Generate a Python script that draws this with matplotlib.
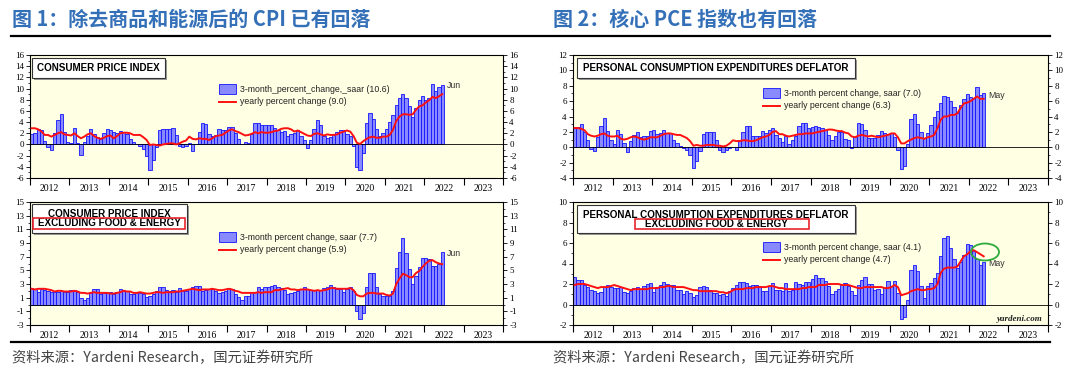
import numpy as np
import matplotlib
matplotlib.use("Agg")
import matplotlib.pyplot as plt
from matplotlib.patches import Rectangle, Ellipse
from matplotlib.lines import Line2D

W, H = 1080, 373

# ---------------- data (monthly, starting Jan 2012) ----------------
cpi_3m = [1.9, 2.0, 2.8, 2.5, 0.7, -0.5, -1.0, 2.1, 4.4, 5.4, 2.2, 0.4,
          0.3, 2.9, 0.3, -1.8, 0.4, 1.6, 2.7, 1.9, 1.4, 1.0, 2.0, 2.8,
          2.6, 2.2, 2.1, 2.4, 2.2, 1.8, 1.0, 0.5, 0.1, -0.3, -0.8, -2.1,
          -4.5, -2.8, -0.5, 2.5, 2.7, 2.8, 2.8, 3.0, 1.7, -0.3, -0.5, -0.2,
          0.2, -1.2, 0.1, 2.3, 3.8, 3.6, 1.8, 1.6, 1.7, 2.7, 2.5, 2.5,
          3.1, 3.2, 2.0, 1.0, 0.0, 0.4, 0.2, 1.9, 3.8, 3.9, 3.4, 3.4,
          3.5, 3.5, 2.9, 2.5, 2.3, 2.4, 1.6, 1.8, 2.0, 2.5, 1.6, 0.8,
          -0.6, 0.8, 2.8, 4.3, 3.5, 1.6, 1.2, 1.4, 1.8, 2.2, 2.6, 2.5,
          1.9, 1.6, -0.3, -4.0, -4.6, -1.5, 3.8, 5.7, 4.6, 2.8, 1.6, 2.0,
          2.8, 4.0, 5.3, 7.0, 8.3, 9.0, 8.3, 6.8, 4.9, 6.5, 8.0, 8.6,
          8.0, 8.3, 10.9, 9.6, 10.3, 10.6]
cpi_yoy = [2.9, 2.9, 2.7, 2.3, 1.7, 1.7, 1.4, 1.7, 2.0, 2.2, 1.8, 1.7,
           1.6, 2.0, 1.5, 1.1, 1.4, 1.8, 2.0, 1.5, 1.2, 1.0, 1.2, 1.5,
           1.6, 1.1, 1.5, 2.0, 2.1, 2.1, 2.0, 1.7, 1.7, 1.7, 1.3, 0.8,
           -0.1, 0.0, -0.1, -0.2, 0.0, 0.1, 0.2, 0.2, 0.0, 0.2, 0.5, 0.7,
           1.4, 1.0, 0.9, 1.1, 1.0, 1.0, 0.8, 1.1, 1.5, 1.6, 1.7, 2.1,
           2.5, 2.7, 2.4, 2.2, 1.9, 1.6, 1.7, 1.9, 2.2, 2.0, 2.2, 2.1,
           2.1, 2.2, 2.4, 2.5, 2.8, 2.9, 2.9, 2.7, 2.3, 2.5, 2.2, 1.9,
           1.6, 1.5, 1.9, 2.0, 1.8, 1.6, 1.8, 1.7, 1.7, 1.8, 2.1, 2.3,
           2.5, 2.3, 1.5, 0.3, 0.1, 0.6, 1.0, 1.3, 1.4, 1.2, 1.2, 1.4,
           1.4, 1.7, 2.6, 4.2, 5.0, 5.4, 5.4, 5.3, 5.4, 6.2, 6.8, 7.0,
           7.5, 7.9, 8.5, 8.3, 8.6, 9.0]
core_cpi_3m = [2.4, 2.2, 1.9, 2.2, 2.1, 2.0, 1.8, 1.8, 1.9, 2.0, 1.8, 1.9,
               2.1, 2.1, 1.8, 1.0, 0.7, 1.0, 1.7, 2.3, 2.3, 1.6, 1.7, 1.7,
               1.8, 1.5, 1.9, 2.3, 2.1, 2.0, 1.5, 1.6, 1.8, 1.7, 1.5, 1.1,
               1.2, 1.6, 2.0, 2.6, 2.5, 2.1, 2.0, 2.1, 1.9, 2.4, 2.0, 2.0,
               2.2, 2.6, 2.7, 2.7, 2.0, 2.1, 2.3, 2.2, 2.0, 1.7, 1.8, 2.0,
               2.4, 2.2, 1.6, 1.1, 0.7, 1.3, 1.2, 1.8, 1.8, 2.5, 2.2, 2.5,
               2.5, 2.7, 2.8, 2.6, 2.4, 2.1, 1.5, 1.7, 1.9, 2.0, 2.2, 2.5,
               2.2, 2.1, 2.1, 2.1, 2.1, 2.4, 2.5, 2.8, 2.6, 2.3, 2.2, 1.9,
               2.3, 2.5, 2.0, -0.9, -2.1, -1.3, 2.6, 4.6, 4.6, 2.6, 1.5, 1.3,
               1.2, 1.2, 2.0, 5.3, 7.7, 9.7, 7.5, 5.2, 3.0, 4.2, 5.5, 6.8,
               6.8, 6.7, 5.7, 5.7, 6.0, 7.7]
core_cpi_yoy = [2.3, 2.2, 2.3, 2.3, 2.3, 2.2, 2.1, 1.9, 2.0, 2.0, 1.9, 1.9,
                1.9, 2.0, 1.9, 1.7, 1.7, 1.6, 1.7, 1.8, 1.7, 1.7, 1.7, 1.7,
                1.6, 1.6, 1.7, 1.8, 2.0, 1.9, 1.9, 1.7, 1.7, 1.8, 1.7, 1.6,
                1.6, 1.7, 1.8, 1.8, 1.7, 1.8, 1.8, 1.8, 1.9, 1.9, 2.0, 2.1,
                2.2, 2.3, 2.2, 2.1, 2.2, 2.2, 2.2, 2.3, 2.2, 2.1, 2.1, 2.2,
                2.3, 2.2, 2.0, 1.9, 1.7, 1.7, 1.7, 1.7, 1.7, 1.8, 1.7, 1.8,
                1.8, 1.8, 2.1, 2.1, 2.2, 2.3, 2.4, 2.2, 2.2, 2.1, 2.2, 2.2,
                2.2, 2.1, 2.0, 2.1, 2.0, 2.1, 2.2, 2.4, 2.4, 2.3, 2.3, 2.3,
                2.3, 2.4, 2.1, 1.4, 1.2, 1.2, 1.6, 1.7, 1.7, 1.6, 1.6, 1.6,
                1.4, 1.3, 1.6, 3.0, 3.8, 4.5, 4.3, 4.0, 4.0, 4.6, 4.9, 5.5,
                6.0, 6.4, 6.5, 6.2, 6.0, 5.9]
pce_3m = [2.5, 2.6, 3.0, 2.0, 0.9, -0.2, -0.5, 1.3, 2.7, 3.8, 2.1, 0.9,
          0.4, 2.2, 1.7, 0.6, -0.6, 0.8, 1.6, 2.0, 1.3, 1.5, 1.5, 2.1,
          2.2, 1.7, 1.8, 2.3, 1.9, 1.9, 1.0, 0.6, 0.2, -0.1, -0.3, -1.0,
          -2.7, -1.8, -0.5, 1.7, 2.0, 2.0, 2.0, 1.0, -0.3, -0.6, -0.4, -0.1,
          0.0, -0.4, 0.9, 2.0, 2.8, 2.7, 1.5, 1.5, 1.5, 2.1, 1.8, 2.3,
          2.5, 1.6, 1.2, 0.7, 1.4, 0.4, 1.0, 1.4, 2.7, 3.2, 3.1, 2.5,
          2.6, 2.8, 2.6, 2.5, 2.3, 1.6, 1.0, 1.4, 2.0, 2.0, 1.1, 0.9,
          -0.1, 1.3, 3.1, 3.0, 2.2, 1.2, 1.2, 1.2, 1.6, 2.1, 1.9, 1.7,
          1.8, 1.3, -0.3, -2.8, -2.5, 0.4, 3.7, 4.3, 3.0, 2.0, 1.2, 1.8,
          2.9, 3.9, 4.7, 5.7, 6.7, 6.6, 6.0, 5.3, 4.5, 5.5, 6.3, 6.9,
          6.5, 6.4, 7.9, 6.8, 7.0]
pce_yoy = [2.5, 2.5, 2.4, 2.2, 1.7, 1.5, 1.4, 1.5, 1.7, 1.8, 1.5, 1.4,
           1.4, 1.5, 1.1, 1.0, 1.1, 1.3, 1.4, 1.3, 1.1, 1.0, 1.1, 1.3,
           1.3, 1.3, 1.5, 1.7, 1.8, 1.8, 1.7, 1.6, 1.6, 1.4, 1.2, 0.8,
           0.2, 0.3, 0.2, 0.2, 0.3, 0.3, 0.3, 0.2, 0.2, 0.1, 0.2, 0.5,
           0.9, 0.8, 0.8, 0.9, 0.9, 0.8, 0.8, 0.9, 1.1, 1.3, 1.4, 1.6,
           2.0, 2.1, 1.7, 1.7, 1.5, 1.4, 1.5, 1.6, 1.7, 1.7, 1.8, 1.8,
           1.8, 1.9, 2.0, 2.1, 2.2, 2.3, 2.3, 2.2, 2.1, 2.1, 1.9, 1.8,
           1.4, 1.3, 1.5, 1.6, 1.5, 1.4, 1.5, 1.4, 1.3, 1.4, 1.5, 1.6,
           1.8, 1.8, 1.3, 0.5, 0.5, 0.8, 1.0, 1.2, 1.3, 1.2, 1.1, 1.3,
           1.4, 1.6, 2.5, 3.6, 4.0, 4.0, 4.2, 4.2, 4.4, 5.1, 5.7, 5.8,
           6.0, 6.3, 6.6, 6.3, 6.3]
core_pce_3m = [2.7, 2.4, 2.4, 1.9, 1.7, 1.4, 1.3, 1.1, 1.2, 1.7, 1.9, 1.7,
               1.6, 1.6, 1.7, 1.2, 1.1, 1.3, 1.6, 1.7, 1.5, 1.8, 2.0, 2.1,
               1.2, 1.7, 1.9, 2.2, 2.0, 1.9, 1.9, 1.4, 1.4, 1.0, 1.3, 1.1,
               0.7, 0.9, 1.7, 1.8, 1.7, 1.4, 1.1, 1.1, 0.9, 1.0, 0.8, 1.3,
               1.6, 1.9, 2.2, 2.2, 2.1, 1.8, 1.9, 1.9, 1.8, 1.3, 1.3, 1.8,
               2.1, 1.4, 1.4, 1.3, 2.1, 1.3, 1.4, 2.2, 2.0, 1.9, 2.2, 2.2,
               2.5, 2.9, 2.6, 2.6, 2.3, 1.8, 1.0, 1.3, 1.5, 1.9, 2.1, 1.8,
               1.3, 0.9, 1.9, 2.4, 2.7, 2.0, 2.0, 1.4, 1.5, 1.0, 1.6, 2.3,
               1.8, 2.3, 1.1, -1.4, -1.2, 0.4, 3.4, 3.9, 3.3, 1.8, 0.6, 1.8,
               2.1, 2.6, 3.1, 4.7, 6.5, 6.7, 5.5, 4.4, 3.6, 4.1, 4.8, 5.9,
               5.8, 5.2, 4.4, 3.9, 4.1]
core_pce_yoy = [1.9, 2.0, 2.0, 2.0, 1.9, 1.8, 1.7, 1.6, 1.7, 1.7, 1.7, 1.8,
                1.9, 1.8, 1.7, 1.6, 1.5, 1.4, 1.5, 1.5, 1.5, 1.5, 1.5, 1.6,
                1.6, 1.6, 1.7, 1.7, 1.8, 1.8, 1.7, 1.7, 1.7, 1.7, 1.6, 1.5,
                1.4, 1.4, 1.3, 1.3, 1.3, 1.3, 1.3, 1.3, 1.2, 1.2, 1.1, 1.2,
                1.4, 1.5, 1.5, 1.5, 1.6, 1.6, 1.6, 1.7, 1.7, 1.7, 1.7, 1.8,
                1.8, 1.7, 1.6, 1.6, 1.5, 1.5, 1.5, 1.5, 1.5, 1.6, 1.6, 1.7,
                1.7, 1.7, 1.9, 1.9, 1.9, 2.0, 2.0, 2.0, 2.0, 1.9, 1.9, 1.9,
                1.8, 1.7, 1.6, 1.6, 1.7, 1.7, 1.7, 1.7, 1.7, 1.7, 1.6, 1.6,
                1.7, 1.9, 1.7, 0.9, 1.0, 1.1, 1.3, 1.4, 1.5, 1.4, 1.4, 1.5,
                1.5, 1.6, 2.0, 3.1, 3.5, 3.6, 3.6, 3.6, 3.7, 4.2, 4.7, 4.9,
                5.2, 5.3, 5.1, 4.9, 4.7]

years = list(range(2012, 2024))
start_year = 2012

title_left = "图 1：除去商品和能源后的 CPI 已有回落"
title_right = "图 2：核心 PCE 指数也有回落"
source_text = "资料来源：Yardeni Research，国元证券研究所"

panels = [
    dict(box=(30, 55, 503, 178), bars=cpi_3m, line=cpi_yoy, ylim=(-6, 16), yt=(-6, 16, 2),
         t1="CONSUMER PRICE INDEX", t2=None, tbox=(32, 58, 165, 78),
         leg1="3-month_percent_change,_saar (10.6)", leg2="yearly percent change (9.0)",
         legx=219, legy=89, end="Jun", endxy=(447, 86)),
    dict(box=(30, 202, 503, 325), bars=core_cpi_3m, line=core_cpi_yoy, ylim=(-3, 15), yt=(-3, 15, 2),
         t1="CONSUMER PRICE INDEX", t2="EXCLUDING FOOD & ENERGY", tbox=(32, 204, 187, 233),
         red=(33, 218, 185, 229),
         leg1="3-month percent change, saar (7.7)", leg2="yearly percent change (5.9)",
         legx=219, legy=237, end="Jun", endxy=(447, 253)),
    dict(box=(573, 55, 1048, 178), bars=pce_3m, line=pce_yoy, ylim=(-4, 12), yt=(-4, 12, 2),
         t1="PERSONAL CONSUMPTION EXPENDITURES DEFLATOR", t2=None, tbox=(577, 58, 855, 78),
         leg1="3-month percent change, saar (7.0)", leg2="yearly percent change (6.3)",
         legx=763, legy=93, end="May", endxy=(988, 95)),
    dict(box=(573, 202, 1048, 325), bars=core_pce_3m, line=core_pce_yoy, ylim=(-2, 10), yt=(-2, 10, 2),
         t1="PERSONAL CONSUMPTION EXPENDITURES DEFLATOR", t2="EXCLUDING FOOD & ENERGY",
         tbox=(577, 205, 855, 233), red=(635, 219, 809, 229),
         leg1="3-month percent change, saar (4.1)", leg2="yearly percent change (4.7)",
         legx=763, legy=247, end="May", endxy=(988, 263)),
]

fig = plt.figure(figsize=(W / 100, H / 100), dpi=100)
fig.patch.set_facecolor("white")


def fx(x):
    return x / W


def fy(y):
    return 1 - y / H


def frect(x0, y0, x1, y1, **kw):
    r = Rectangle((fx(x0), fy(y1)), (x1 - x0) / W, (y1 - y0) / H,
                  transform=fig.transFigure, **kw)
    fig.add_artist(r)
    return r


serif = "Liberation Serif"
sans = "Liberation Sans"

for p in panels:
    l, t, r, b = p["box"]
    ax = fig.add_axes([fx(l), fy(b), (r - l) / W, (b - t) / H])
    ax.set_facecolor("#ffffe4")
    n = len(p["bars"])
    xs = start_year + np.arange(n) / 12.0
    ax.bar(xs, p["bars"], width=1 / 12.0, align="edge", facecolor="#8a8aff",
           edgecolor="#1414ff", linewidth=0.6, zorder=2)
    ax.plot(xs + 1 / 24.0, p["line"], color="#ff1010", lw=1.4, zorder=3)
    ax.axhline(0, color="black", lw=0.6, zorder=2.5)
    ax.set_xlim(years[0], years[-1] + 1)
    ax.set_ylim(*p["ylim"])
    lo, hi, st = p["yt"]
    ax.set_yticks(np.arange(lo, hi + 0.01, st))
    ax.set_yticks(np.arange(lo, hi + 0.01, st / 2.0), minor=True)
    ax.set_yticklabels([str(int(v)) for v in np.arange(lo, hi + 0.01, st)])
    ax.set_xticks(years + [years[-1] + 1])
    ax.set_xticklabels([])
    ax.set_xticks([y + 0.5 for y in years], minor=True)
    ax.set_xticklabels([str(y) for y in years], minor=True)
    ax.tick_params(axis="x", which="major", direction="out", length=5, width=0.8)
    ax.tick_params(axis="x", which="minor", length=0, pad=4, labelsize=7)
    ax.tick_params(axis="y", which="both", direction="out", left=True, right=True,
                   labelleft=True, labelright=True, labelsize=6.5, pad=1.5)
    ax.tick_params(axis="y", which="major", length=3, width=0.6)
    ax.tick_params(axis="y", which="minor", length=1.5, width=0.5)
    for lab in ax.get_xticklabels(minor=True) + ax.get_yticklabels():
        lab.set_fontfamily(serif)
    for sp in ax.spines.values():
        sp.set_linewidth(0.8)

    # title box with shadow
    x0, y0, x1, y1 = p["tbox"]
    frect(x0 + 2, y0 + 2, x1 + 2, y1 + 2, facecolor="#9a9a9a", edgecolor="none", zorder=5)
    frect(x0, y0, x1, y1, facecolor="white", edgecolor="#333333", lw=0.8, zorder=6)
    cx = (x0 + x1) / 2
    if p["t2"] is None:
        fig.text(fx(cx), fy((y0 + y1) / 2), p["t1"], ha="center", va="center",
                 fontsize=7.1, fontweight="bold", family=sans, zorder=7)
    else:
        fig.text(fx(cx), fy(y0 + 10), p["t1"], ha="center", va="center",
                 fontsize=7.1, fontweight="bold", family=sans, zorder=7)
        fig.text(fx(cx), fy(y0 + 19.5), p["t2"], ha="center", va="center",
                 fontsize=7.1, fontweight="bold", family=sans, zorder=7)
        rx0, ry0, rx1, ry1 = p["red"]
        frect(rx0, ry0, rx1, ry1, facecolor="none", edgecolor="#e8242c", lw=1.2, zorder=8)

    # legend
    lx, ly = p["legx"], p["legy"]
    frect(lx, ly - 5, lx + 17, ly + 5, facecolor="#8a8aff", edgecolor="#1414ff", lw=0.6, zorder=6)
    fig.text(fx(lx + 21), fy(ly), p["leg1"], ha="left", va="center", fontsize=6.3,
             family=sans, color="#222222", zorder=7)
    fig.add_artist(Line2D([fx(lx), fx(lx + 17)], [fy(ly + 12.5), fy(ly + 12.5)],
                          transform=fig.transFigure, color="#ff1010", lw=1.4, zorder=6))
    fig.text(fx(lx + 21), fy(ly + 12.5), p["leg2"], ha="left", va="center", fontsize=6.3,
             family=sans, color="#222222", zorder=7)
    ex, ey = p["endxy"]
    fig.text(fx(ex), fy(ey), p["end"], ha="left", va="center", fontsize=6.3,
             family=sans, color="#333333", zorder=7)

# green highlight ellipse and watermark
fig.add_artist(Ellipse((fx(985), fy(252)), 28 / W, 17 / H, transform=fig.transFigure,
                       facecolor="none", edgecolor="#2eaa3c", lw=1.3, zorder=9))
fig.text(fx(1043), fy(319), "yardeni.com", ha="right", va="center", fontsize=6.5,
         family=serif, fontweight="bold", style="italic", color="#222222", zorder=7)

# Chinese titles and rules
cjk = ["Noto Sans CJK SC", "DejaVu Sans"]
fig.text(fx(12), fy(19), title_left, ha="left", va="center", fontsize=14.4,
         family=cjk, fontweight="bold", color="#3470b8")
fig.text(fx(553), fy(19), title_right, ha="left", va="center", fontsize=14.4,
         family=cjk, fontweight="bold", color="#3470b8")
fig.add_artist(Line2D([fx(11), fx(1050)], [fy(35.5), fy(35.5)], transform=fig.transFigure,
                      color="black", lw=1.6))
fig.add_artist(Line2D([fx(11), fx(1050)], [fy(342), fy(342)], transform=fig.transFigure,
                      color="black", lw=1.6))
fig.text(fx(12), fy(358), source_text, ha="left", va="center", fontsize=10.3,
         family=cjk, color="#444444")
fig.text(fx(553), fy(358), source_text, ha="left", va="center", fontsize=10.3,
         family=cjk, color="#444444")

fig.savefig("out.png", dpi=100, facecolor="white")
